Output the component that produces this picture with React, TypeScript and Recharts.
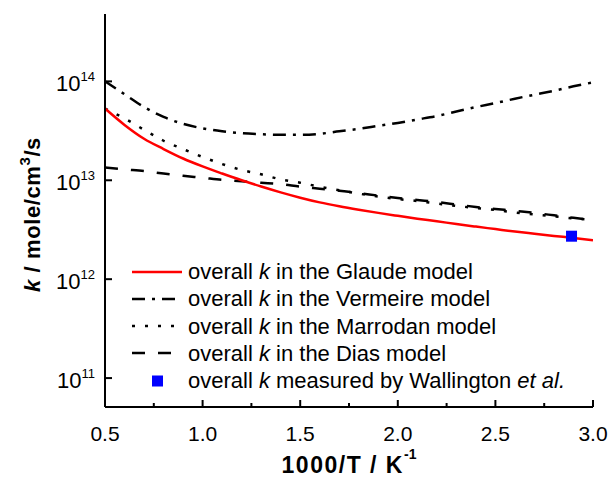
import React from "react";
import { ComposedChart, Line, Scatter, XAxis, YAxis } from "recharts";

// 1000/T values (K^-1) where the curves were read
const invT = [0.5, 0.6, 0.7, 0.8, 0.9, 1.0, 1.1, 1.2, 1.3, 1.4, 1.5, 1.6, 1.7, 1.8, 1.9, 2.0, 2.1, 2.2, 2.3, 2.4, 2.5, 2.6, 2.7, 2.8, 2.9, 3.0];

// overall k (mole/cm3/s) for each model
const glaude = [5.31e13, 3.63e13, 2.63e13, 2.07e13, 1.66e13, 1.38e13, 1.17e13, 1.0e13, 8.65e12, 7.55e12, 6.67e12, 5.98e12, 5.46e12, 5.04e12, 4.68e12, 4.37e12, 4.09e12, 3.85e12, 3.61e12, 3.4e12, 3.21e12, 3.03e12, 2.88e12, 2.74e12, 2.61e12, 2.48e12];
const vermeire = [1.0e14, 7.41e13, 5.5e13, 4.37e13, 3.72e13, 3.35e13, 3.13e13, 2.99e13, 2.92e13, 2.88e13, 2.88e13, 2.95e13, 3.13e13, 3.31e13, 3.55e13, 3.8e13, 4.12e13, 4.47e13, 4.95e13, 5.5e13, 6.03e13, 6.68e13, 7.33e13, 8.04e13, 8.91e13, 9.77e13];
const marrodan = [5.31e13, 4.22e13, 3.24e13, 2.51e13, 2.07e13, 1.72e13, 1.46e13, 1.27e13, 1.15e13, 1.02e13, 9.44e12, 8.61e12, 7.94e12, 7.33e12, 6.84e12, 6.46e12, 6.17e12, 5.82e12, 5.5e12, 5.25e12, 5.01e12, 4.73e12, 4.52e12, 4.32e12, 4.12e12, 3.98e12];
const dias = [1.35e13, 1.29e13, 1.24e13, 1.17e13, 1.11e13, 1.06e13, 1.01e13, 9.77e12, 9.44e12, 9.12e12, 8.61e12, 8.22e12, 7.85e12, 7.41e12, 7.0e12, 6.61e12, 6.31e12, 6.03e12, 5.69e12, 5.37e12, 5.13e12, 4.9e12, 4.68e12, 4.42e12, 4.17e12, 3.98e12];

// measured point (Wallington et al.)
const wallingtonX = [2.89];
const wallingtonK = [2.72e12];

const xTicks = [0.5, 0.75, 1.0, 1.25, 1.5, 1.75, 2.0, 2.25, 2.5, 2.75, 3.0];
const yTicks = [1e11, 1e12, 1e13, 1e14];

const chartData = invT.map((x, i) => ({
  x,
  glaude: glaude[i],
  vermeire: vermeire[i],
  marrodan: marrodan[i],
  dias: dias[i],
}));
const wallData = wallingtonX.map((x, i) => ({ x, k: wallingtonK[i] }));

const FONT = '"Liberation Sans", Arial, Helvetica, sans-serif';
const isMajor = (v: number) => Math.abs(v * 2 - Math.round(v * 2)) < 1e-6;

const BottomTick = (props: any) => {
  const { x, y, payload } = props;
  const major = isMajor(payload.value);
  return (
    <g>
      <line x1={x} x2={x} y1={y} y2={y - (major ? 7 : 4)} stroke="#000" strokeWidth={2} />
      {major && (
        <text x={x} y={y + 34} textAnchor="middle" fontSize={21} fontFamily={FONT} fill="#000">
          {payload.value.toFixed(1)}
        </text>
      )}
    </g>
  );
};

const TopTick = (props: any) => {
  const { x, y, payload } = props;
  const major = isMajor(payload.value);
  return <line x1={x} x2={x} y1={y} y2={y + (major ? 7 : 4)} stroke="#000" strokeWidth={2} />;
};

const LeftTick = (props: any) => {
  const { x, y, payload } = props;
  const exp = Math.round(Math.log10(payload.value));
  return (
    <g>
      <line x1={x} x2={x + 7} y1={y} y2={y} stroke="#000" strokeWidth={2} />
      <text x={x - 10} y={y + 10} textAnchor="end" fontSize={22} fontFamily={FONT} fill="#000">
        <tspan>10</tspan>
        <tspan dy={-10} fontSize={13}>{exp}</tspan>
      </text>
    </g>
  );
};

const RightTick = (props: any) => {
  const { x, y } = props;
  return <line x1={x} x2={x - 7} y1={y} y2={y} stroke="#000" strokeWidth={2} />;
};

const YTitle = (props: any) => {
  const vb = props.viewBox;
  const x = vb.x + 40;
  const y = vb.y + vb.height / 2 + 4;
  return (
    <text x={x} y={y} transform={`rotate(-90 ${x} ${y})`} textAnchor="middle" fontSize={22} fontWeight="bold" fontFamily={FONT} letterSpacing={0.6} fill="#000">
      <tspan fontStyle="italic">k</tspan>
      <tspan>{" / mole/cm"}</tspan>
      <tspan dy={-10} fontSize={15}>3</tspan>
      <tspan dy={10}>/s</tspan>
    </text>
  );
};

const XTitle = (props: any) => {
  const vb = props.viewBox;
  return (
    <text x={vb.x + vb.width / 2} y={vb.y + 66} textAnchor="middle" fontSize={23} fontWeight="bold" fontFamily={FONT} letterSpacing={1.5} fill="#000">
      <tspan>1000/T / K</tspan>
      <tspan dy={-14} fontSize={14} letterSpacing={0}>-1</tspan>
    </text>
  );
};

const legendItems = [
  { name: "Glaude", color: "#ff0000", dash: undefined as string | undefined },
  { name: "Vermeire", color: "#000", dash: "13 7 3 7" },
  { name: "Marrodan", color: "#000", dash: "3 10" },
  { name: "Dias", color: "#000", dash: "13 13" },
];

const ModelLegend = () => (
  <div style={{ position: "absolute", left: 132, top: 258, fontFamily: FONT, fontSize: 22, color: "#000", lineHeight: "27.25px" }}>
    {legendItems.map((it) => (
      <div key={it.name} style={{ display: "flex", alignItems: "center", height: 27.25, whiteSpace: "nowrap" }}>
        <svg width={50} height={12} style={{ marginRight: 6 }}>
          <line x1={0} x2={50} y1={6} y2={6} stroke={it.color} strokeWidth={2.5} strokeDasharray={it.dash} />
        </svg>
        <span>
          overall <i>k</i> in the {it.name} model
        </span>
      </div>
    ))}
    <div style={{ display: "flex", alignItems: "center", height: 27.25, whiteSpace: "nowrap" }}>
      <svg width={50} height={12} style={{ marginRight: 6 }}>
        <rect x={20} y={0.5} width={11} height={11} fill="#0000ff" />
      </svg>
      <span>
        overall <i>k</i> measured by Wallington <i>et al.</i>
      </span>
    </div>
  </div>
);

export default function App() {
  return (
    <div style={{ position: "relative", width: 610, height: 479 }}>
      <style>{"body{margin:0}"}</style>
      <ComposedChart width={610} height={479} data={chartData} margin={{ top: 14, right: 17, bottom: 0, left: 0 }}>
        <XAxis
          xAxisId="b"
          dataKey="x"
          type="number"
          domain={[0.5, 3.0]}
          ticks={xTicks}
          interval={0}
          allowDataOverflow
          height={72}
          tickSize={0}
          tickMargin={0}
          tick={BottomTick}
          axisLine={{ stroke: "#000", strokeWidth: 2 }}
          label={<XTitle />}
        />
        <XAxis
          xAxisId="t"
          orientation="top"
          dataKey="x"
          type="number"
          domain={[0.5, 3.0]}
          ticks={xTicks}
          interval={0}
          allowDataOverflow
          height={0}
          tickSize={0}
          tickMargin={0}
          tick={TopTick}
          axisLine={{ stroke: "#000", strokeWidth: 2 }}
        />
        <YAxis
          yAxisId="l"
          scale="log"
          domain={[5.1e10, 4.8e14]}
          ticks={yTicks}
          interval={0}
          allowDataOverflow
          width={105}
          tickSize={0}
          tickMargin={0}
          tick={LeftTick}
          axisLine={{ stroke: "#000", strokeWidth: 2 }}
          label={<YTitle />}
        />
        <YAxis
          yAxisId="r"
          orientation="right"
          scale="log"
          domain={[5.1e10, 4.8e14]}
          ticks={yTicks}
          interval={0}
          allowDataOverflow
          width={0}
          tickSize={0}
          tickMargin={0}
          tick={RightTick}
          axisLine={{ stroke: "#000", strokeWidth: 2 }}
        />
        <Line xAxisId="b" yAxisId="l" type="monotone" dataKey="dias" stroke="#000" strokeWidth={2.5} strokeDasharray="13 13" dot={false} isAnimationActive={false} />
        <Line xAxisId="b" yAxisId="l" type="monotone" dataKey="marrodan" stroke="#000" strokeWidth={2.5} strokeDasharray="3 10" dot={false} isAnimationActive={false} />
        <Line xAxisId="b" yAxisId="l" type="monotone" dataKey="vermeire" stroke="#000" strokeWidth={2.5} strokeDasharray="13 7 3 7" dot={false} isAnimationActive={false} />
        <Line xAxisId="b" yAxisId="l" type="monotone" dataKey="glaude" stroke="#ff0000" strokeWidth={2.5} dot={false} isAnimationActive={false} />
        <Scatter
          xAxisId="b"
          yAxisId="l"
          data={wallData}
          dataKey="k"
          fill="#0000ff"
          isAnimationActive={false}
          shape={(p: any) => <rect x={p.cx - 5.5} y={p.cy - 5.5} width={11} height={11} fill="#0000ff" />}
        />
      </ComposedChart>
      <ModelLegend />
    </div>
  );
}
